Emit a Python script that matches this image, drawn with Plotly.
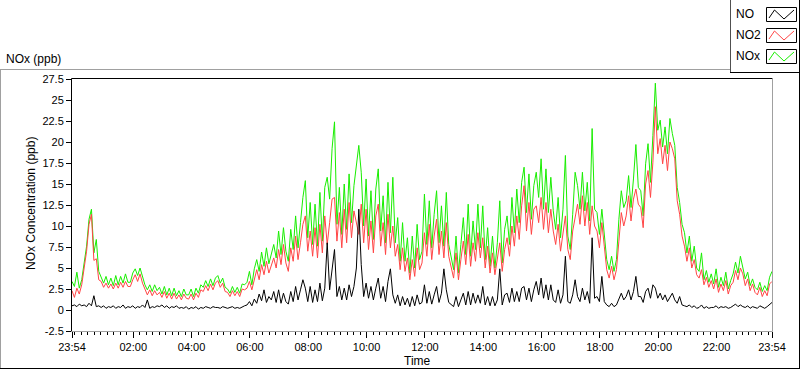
import pandas as pd
import plotly.graph_objects as go

# ---------------- data (5-minute samples, 23:54 -> 23:54) ----------------
start_time = "2000-01-01 23:54"
n_points = 289
time = pd.date_range(start_time, periods=n_points, freq="5min")

no2 = [
    2.3, 1.5, 2.6, 1.9, 3.0, 5.2, 7.0, 10.2, 11.4, 5.9, 6.1, 3.6,
    3.4, 2.7, 3.2, 2.6, 3.1, 2.5, 3.2, 2.6, 3.3, 2.7, 3.4, 2.8,
    2.8, 3.6, 4.2, 3.4, 4.3, 3.2, 2.4, 1.8, 2.4, 1.7, 2.3, 1.8,
    2.1, 1.5, 2.2, 1.4, 2.0, 1.3, 2.0, 1.3, 1.8, 1.2, 1.9, 1.4,
    1.3, 1.9, 1.2, 2.0, 1.5, 2.4, 2.2, 2.9, 2.3, 3.1, 2.4, 3.2,
    3.5, 2.7, 3.2, 2.2, 2.1, 1.6, 2.3, 1.7, 2.2, 1.6, 2.5, 2.4,
    2.6, 3.4, 2.4, 3.6, 4.8, 3.6, 5.4, 4.2, 5.8, 4.4, 5.4, 6.2,
    5.0, 7.2, 5.4, 7.8, 5.6, 4.6, 7.4, 5.8, 8.8, 6.0, 8.0, 10.2,
    11.2, 7.0, 9.4, 6.4, 9.8, 6.2, 10.2, 6.8, 11.2, 7.8, 10.4, 13.2,
    13.4, 8.2, 11.6, 7.4, 12.0, 8.0, 12.8, 8.6, 11.8, 10.4, 9.0, 12.6,
    8.0, 12.0, 7.2, 10.6, 6.8, 11.2, 12.6, 7.6, 10.4, 6.6, 11.4, 7.4,
    10.0, 6.4, 7.8, 4.8, 7.4, 4.6, 6.2, 3.6, 6.0, 4.0, 7.4, 4.8,
    5.6, 9.2, 6.4, 10.2, 6.0, 8.8, 10.8, 6.6, 9.4, 6.2, 10.4, 6.4,
    5.0, 3.8, 6.8, 3.6, 6.0, 8.2, 5.4, 9.0, 5.2, 8.0, 5.8, 9.2,
    6.2, 8.6, 5.0, 7.6, 4.4, 6.8, 4.2, 6.4, 8.0, 4.6, 7.2, 8.6,
    6.4, 10.0, 7.6, 11.2, 8.4, 12.4, 14.8, 9.4, 12.8, 9.0, 12.0, 12.4,
    10.4, 13.4, 9.6, 12.8, 9.2, 12.0, 9.4, 7.8, 10.2, 7.0, 9.4, 11.2,
    7.2, 6.0, 9.4, 10.8, 12.6, 10.2, 13.6, 10.0, 12.8, 9.0, 12.4, 10.0,
    9.4, 7.4, 10.4, 7.6, 4.8, 3.8, 5.2, 3.6, 4.8, 8.2, 11.6, 10.0,
    11.2, 13.6, 10.6, 13.2, 14.4, 12.6, 12.2, 9.8, 15.0, 16.6, 13.4, 17.6,
    24.2, 18.6, 20.4, 17.4, 19.6, 16.6, 20.0, 19.2, 18.0, 13.0, 11.4, 8.8,
    7.6, 5.8, 7.4, 5.0, 6.0, 4.2, 3.8, 4.8, 3.0, 3.9, 2.7, 3.5,
    2.5, 3.7, 2.1, 3.1, 2.3, 3.5, 1.9, 2.9, 3.3, 4.7, 3.6, 5.0,
    4.3, 2.9, 3.7, 2.3, 3.1, 2.1, 1.8, 2.7, 1.6, 2.3, 1.7, 3.1,
    3.4,
]

nox = [
    3.4, 2.8, 4.5, 2.6, 3.6, 5.8, 7.6, 10.8, 12.0, 6.8, 8.4, 4.6,
    4.0, 3.2, 4.0, 3.0, 3.8, 2.9, 4.1, 3.0, 4.0, 3.2, 4.3, 3.3,
    3.3, 4.4, 4.9, 4.1, 5.0, 3.9, 3.0, 2.4, 3.0, 2.2, 3.0, 2.3,
    2.7, 1.9, 2.8, 1.8, 2.6, 1.7, 2.6, 1.7, 2.3, 1.6, 2.5, 1.8,
    1.8, 2.5, 1.6, 2.6, 2.0, 3.0, 2.7, 3.5, 2.8, 3.7, 2.9, 3.8,
    4.1, 3.2, 3.8, 2.7, 2.5, 2.0, 2.8, 2.1, 2.7, 2.0, 3.1, 3.0,
    3.3, 4.6, 3.0, 4.9, 6.0, 4.6, 6.9, 5.2, 7.4, 5.5, 6.7, 7.8,
    6.2, 9.4, 6.6, 9.8, 7.0, 5.8, 9.6, 7.2, 11.2, 7.4, 10.4, 13.4,
    15.4, 8.6, 12.8, 7.8, 12.6, 7.6, 14.0, 8.2, 14.6, 15.8, 13.2, 19.2,
    22.4, 10.2, 14.6, 9.0, 15.0, 9.6, 16.2, 10.4, 14.8, 17.0, 19.6, 16.4,
    10.0, 15.6, 8.8, 14.2, 8.4, 14.4, 16.8, 9.4, 13.6, 8.0, 15.2, 9.2,
    15.8, 8.0, 11.0, 5.8, 10.4, 5.8, 8.6, 4.4, 8.8, 5.0, 10.2, 6.0,
    7.0, 13.8, 7.8, 13.0, 7.4, 11.4, 14.2, 8.0, 12.4, 7.6, 14.0, 7.8,
    6.2, 4.8, 8.8, 4.4, 7.8, 11.0, 6.6, 12.6, 6.4, 10.6, 7.2, 12.6,
    7.4, 12.4, 6.0, 9.8, 5.2, 8.8, 5.0, 8.0, 13.0, 5.6, 9.6, 11.2,
    7.8, 13.4, 9.2, 14.4, 10.4, 15.2, 17.0, 11.6, 16.2, 10.8, 14.8, 16.4,
    13.4, 18.0, 12.0, 16.8, 11.6, 15.8, 11.8, 9.6, 13.4, 8.6, 12.0, 18.4,
    8.8, 7.2, 11.4, 16.4, 14.8, 12.0, 16.4, 11.8, 15.2, 10.6, 21.6, 12.0,
    11.6, 9.0, 12.0, 9.0, 6.0, 4.8, 6.4, 4.6, 6.0, 10.8, 14.2, 12.2,
    13.0, 16.0, 12.2, 15.6, 19.7, 14.6, 14.2, 11.2, 17.4, 19.8, 15.2, 20.8,
    27.0, 21.4, 22.6, 19.4, 21.8, 18.6, 22.8, 21.0, 19.6, 14.6, 12.8, 10.2,
    9.2, 6.8, 8.8, 5.8, 7.6, 5.0, 4.6, 6.8, 3.6, 4.7, 3.3, 4.3,
    3.1, 4.9, 2.7, 3.9, 2.9, 4.5, 2.5, 3.5, 4.3, 5.7, 4.4, 6.4,
    5.1, 3.7, 4.5, 2.9, 3.7, 2.7, 2.4, 3.3, 2.2, 2.9, 2.3, 3.9,
    4.6,
]

no = [
    0.5, 0.6, 0.4, 0.7, 0.5, 0.6, 0.4, 0.8, 0.5, 1.7, 0.4, 0.5,
    0.3, 0.5, 0.2, 0.4, 0.3, 0.5, 0.2, 0.4, 0.3, 0.6, 0.2, 0.4,
    0.3, 0.5, 0.2, 0.4, 0.3, 0.6, 0.3, 1.2, 0.2, 0.4, 0.3, 0.5,
    0.4, 0.6, 0.3, 0.5, 0.2, 0.4, 0.3, 0.5, 0.2, 0.3, 0.2, 0.4,
    0.1, 0.3, 0.2, 0.4, 0.1, 0.3, 0.2, 0.4, 0.3, 0.2, 0.4, 0.3,
    0.3, 0.2, 0.4, 0.3, 0.2, 0.3, 0.4, 0.2, 0.3, 0.2, 0.4, 0.5,
    0.6, 1.0, 0.5, 1.3, 0.8, 1.9, 1.1, 2.4, 0.9, 1.6, 1.2, 2.2,
    0.9, 2.4, 0.8, 2.0, 1.0, 0.7, 2.2, 1.0, 2.8, 1.2, 2.4, 3.6,
    2.6, 1.0, 2.8, 0.9, 2.4, 1.0, 3.2, 1.1, 2.6, 8.0, 2.4, 5.0,
    7.2, 1.6, 2.8, 1.2, 2.6, 1.2, 3.0, 1.6, 2.8, 5.0, 12.0, 5.4,
    1.6, 3.2, 1.4, 2.8, 1.2, 2.6, 3.8, 1.4, 2.8, 1.0, 3.4, 4.9,
    1.8, 0.8, 1.8, 0.5, 1.6, 0.6, 1.4, 0.4, 1.6, 0.5, 1.8, 0.7,
    0.9, 3.0, 0.8, 2.2, 0.7, 1.8, 2.8, 0.9, 2.0, 4.9, 2.4, 0.9,
    0.6, 0.4, 1.6, 0.4, 1.2, 2.0, 0.6, 2.2, 0.6, 2.0, 0.8, 1.8,
    0.8, 2.8, 0.6, 1.6, 0.5, 1.6, 0.5, 1.2, 4.9, 0.6, 1.8, 2.0,
    0.9, 2.6, 1.0, 2.2, 1.0, 2.6, 2.8, 1.2, 2.6, 1.0, 2.4, 3.4,
    1.8, 3.8, 1.4, 3.0, 1.2, 3.0, 1.2, 0.9, 2.4, 0.8, 1.8, 6.4,
    1.0, 0.8, 1.8, 3.6, 1.6, 1.0, 2.6, 1.2, 2.2, 0.8, 8.6, 1.4,
    1.6, 1.0, 4.0, 1.0, 0.6, 0.4, 0.8, 0.4, 0.6, 1.4, 2.0, 1.2,
    1.6, 2.4, 1.2, 2.2, 4.0, 1.6, 1.6, 0.9, 2.2, 2.6, 1.4, 3.0,
    2.6, 1.4, 2.0, 1.2, 1.8, 1.0, 1.6, 2.0, 1.2, 0.8, 1.6, 0.6,
    0.5, 0.4, 0.6, 0.3, 0.5, 0.2, 0.3, 0.6, 0.2, 0.4, 0.2, 0.3,
    0.3, 0.5, 0.2, 0.4, 0.3, 0.4, 0.2, 0.3, 0.5, 0.7, 0.4, 0.6,
    0.4, 0.3, 0.5, 0.2, 0.4, 0.3, 0.2, 0.5, 0.3, 0.2, 0.4, 0.6,
    0.9,
]

series_names = ["NO", "NO2", "NOx"]
x_tick_values = ["2000-01-01 23:54", "2000-01-02 02:00", "2000-01-02 04:00",
                 "2000-01-02 06:00", "2000-01-02 08:00", "2000-01-02 10:00",
                 "2000-01-02 12:00", "2000-01-02 14:00", "2000-01-02 16:00",
                 "2000-01-02 18:00", "2000-01-02 20:00", "2000-01-02 22:00",
                 "2000-01-02 23:54"]
x_tick_labels = ["23:54", "02:00", "04:00", "06:00", "08:00", "10:00", "12:00",
                 "14:00", "16:00", "18:00", "20:00", "22:00", "23:54"]
y_tick_values = [-2.5, 0, 2.5, 5, 7.5, 10, 12.5, 15, 17.5, 20, 22.5, 25, 27.5]
y_tick_labels = ["-2.5", "0", "2.5", "5", "7.5", "10", "12.5", "15", "17.5",
                 "20", "22.5", "25", "27.5"]

# ---------------- styling / geometry ----------------
W, H = 800, 369
L, R, T, B = 72, 772, 79, 331          # plot area in pixels
FONT = "Liberation Sans"
TXT = "#000000"
COL_NO, COL_NO2, COL_NOX = "#000000", "#ff4545", "#18ee00"


def px(x):
    return (x - L) / (R - L)


def py(y):
    return (B - y) / (B - T)


fig = go.Figure()
fig.add_trace(go.Scatter(x=time, y=nox, name="NOx", mode="lines",
                         line=dict(color=COL_NOX, width=1)))
fig.add_trace(go.Scatter(x=time, y=no2, name="NO2", mode="lines",
                         line=dict(color=COL_NO2, width=1)))
fig.add_trace(go.Scatter(x=time, y=no, name="NO", mode="lines",
                         line=dict(color=COL_NO, width=1)))

shapes = []


def line(x0, y0, x1, y1, color, width=1):
    shapes.append(dict(type="line", xref="paper", yref="paper",
                       x0=px(x0), y0=py(y0), x1=px(x1), y1=py(y1),
                       line=dict(color=color, width=width), layer="above"))


# outer panel
line(0, 69.5, 730, 69.5, "#a0a0a0")
line(0.5, 69.5, 0.5, 368.5, "#a0a0a0")
line(0, 368.5, 800, 368.5, "#000000")
line(799.5, 71, 799.5, 368.5, "#000000")
# legend box
line(730.5, 0, 730.5, 72, "#505050")
line(730, 72.5, 800, 72.5, "#000000")
line(799.5, 0, 799.5, 72.5, "#000000")
# plot area border (sunken look)
line(71.5, 78.5, 71.5, 331.5, "#000000")
line(71.5, 78.5, 772.5, 78.5, "#000000")
line(772.5, 78.5, 772.5, 331.5, "#a0a0a0")
line(71.5, 331.5, 772.5, 331.5, "#a0a0a0")

annotations = []
legend_rows = [(series_names[0], COL_NO, 7), (series_names[1], COL_NO2, 28),
               (series_names[2], COL_NOX, 49)]
for name, col, top in legend_rows:
    x0, x1, y0, y1 = 766.5, 796.5, top + 0.5, top + 14.5
    shapes.append(dict(type="rect", xref="paper", yref="paper",
                       x0=px(x0), x1=px(x1), y0=py(y0), y1=py(y1),
                       line=dict(color="#000000", width=1), fillcolor="white",
                       layer="above"))
    pts = [(769, top + 11), (774.5, top + 3), (784, top + 12), (794, top + 3)]
    path = "M " + " L ".join(f"{px(a)},{py(b)}" for a, b in pts)
    shapes.append(dict(type="path", xref="paper", yref="paper", path=path,
                       line=dict(color=col, width=1), layer="above"))
    annotations.append(dict(text=name, xref="paper", yref="paper",
                            x=px(734), y=py(top + 7), xanchor="left",
                            yanchor="middle", showarrow=False,
                            font=dict(family=FONT, size=12, color=TXT)))

annotations.append(dict(text="NOx (ppb)", xref="paper", yref="paper",
                        x=px(4), y=py(59), xanchor="left", yanchor="middle",
                        showarrow=False,
                        font=dict(family=FONT, size=12, color=TXT)))
annotations.append(dict(text="Time", xref="paper", yref="paper",
                        x=px(417), y=py(361), xanchor="center",
                        yanchor="middle", showarrow=False,
                        font=dict(family=FONT, size=12, color=TXT)))
annotations.append(dict(text="NOx Concentration (ppb)", xref="paper",
                        yref="paper", x=px(31), y=py(204), textangle=-90,
                        xanchor="center", yanchor="middle", showarrow=False,
                        font=dict(family=FONT, size=12, color=TXT)))

fig.update_layout(
    width=W, height=H,
    margin=dict(l=L, r=W - R, t=T, b=H - B, pad=0),
    paper_bgcolor="white", plot_bgcolor="white",
    showlegend=False,
    shapes=shapes, annotations=annotations,
    font=dict(family=FONT, size=11, color=TXT),
)
fig.update_xaxes(
    range=[x_tick_values[0], x_tick_values[-1]],
    tickmode="array", tickvals=x_tick_values, ticktext=x_tick_labels,
    ticks="outside", ticklen=6, tickcolor="#000000", tickwidth=1,
    showgrid=False, zeroline=False, showline=False,
    tickfont=dict(family=FONT, size=11, color=TXT),
    minor=dict(tickmode="linear", tick0="2000-01-02 00:00", dtick=800000,
               ticks="outside", ticklen=3, tickcolor="#000000", showgrid=False),
)
fig.update_yaxes(
    range=[-2.5, 27.5],
    tickmode="array", tickvals=y_tick_values, ticktext=y_tick_labels,
    ticks="outside", ticklen=5, tickcolor="#000000", tickwidth=1,
    showgrid=False, zeroline=False, showline=False,
    tickfont=dict(family=FONT, size=11, color=TXT),
)

fig.write_html(
    "out.html",
    config={"displayModeBar": False},
    post_script="document.body.style.margin='0';document.body.style.overflow='hidden';",
)
